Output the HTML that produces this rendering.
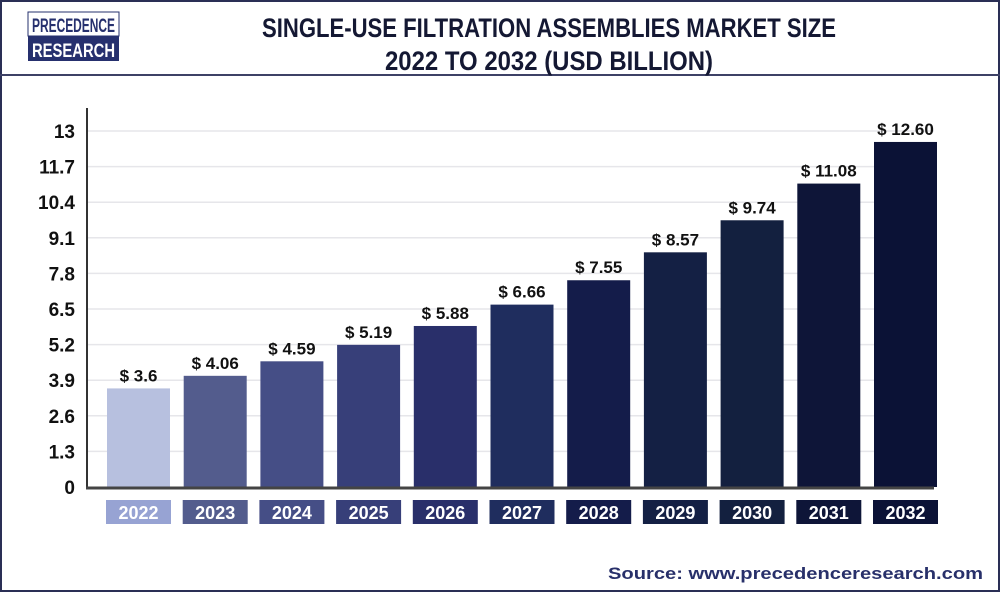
<!DOCTYPE html>
<html><head><meta charset="utf-8"><style>
html,body{margin:0;padding:0;background:#fff}
svg{display:block}
text{font-family:"Liberation Sans Narrow","Liberation Sans",sans-serif;font-weight:bold}
</style></head><body>
<svg id="chart" width="1000" height="592" viewBox="0 0 1000 592" xmlns="http://www.w3.org/2000/svg">
<rect x="1" y="1" width="998" height="590" fill="#fff" stroke="#2a2f55" stroke-width="2"/>
<line x1="0" y1="75" x2="1000" y2="75" stroke="#3d4166" stroke-width="2"/>
<g>
<rect x="28" y="12" width="91" height="24" fill="#fff" stroke="#26306e" stroke-width="1"/>
<rect x="28" y="36" width="91" height="25" fill="#26306e"/>
<text x="73.5" y="32" text-anchor="middle" font-size="19" fill="#26306e" textLength="83" lengthAdjust="spacingAndGlyphs">PRECEDENCE</text>
<text x="73.5" y="57" text-anchor="middle" font-size="19" fill="#fff" textLength="83" lengthAdjust="spacingAndGlyphs">RESEARCH</text>
</g>
<text x="549" y="37" text-anchor="middle" font-size="27" fill="#141833" textLength="574" lengthAdjust="spacingAndGlyphs">SINGLE-USE FILTRATION ASSEMBLIES MARKET SIZE</text>
<text x="549" y="70" text-anchor="middle" font-size="27" fill="#141833" textLength="328" lengthAdjust="spacingAndGlyphs">2022 TO 2032 (USD BILLION)</text>
<g id="grid"></g><g id="bars"></g><g id="yticks"></g>
<line x1="87" y1="108" x2="87" y2="489" stroke="#333" stroke-width="2"/>
<line x1="86" y1="488" x2="934" y2="488" stroke="#444" stroke-width="3"/>
<text x="983" y="579" text-anchor="end" font-size="17" fill="#28306a" style="font-family:'Liberation Sans',sans-serif" textLength="375" lengthAdjust="spacingAndGlyphs">Source: www.precedenceresearch.com</text>
</svg>
<script>
const categories=["2022","2023","2024","2025","2026","2027","2028","2029","2030","2031","2032"];
const values=[3.6,4.06,4.59,5.19,5.88,6.66,7.55,8.57,9.74,11.08,12.60];
const valueLabels=["$ 3.6","$ 4.06","$ 4.59","$ 5.19","$ 5.88","$ 6.66","$ 7.55","$ 8.57","$ 9.74","$ 11.08","$ 12.60"];
const yTicks=[0,1.3,2.6,3.9,5.2,6.5,7.8,9.1,10.4,11.7,13];
const yTickLabels=["0","1.3","2.6","3.9","5.2","6.5","7.8","9.1","10.4","11.7","13"];
const barColors=["#b7c0df","#535c8d","#454e86","#373f79","#292f6a","#1f2d5e","#141c4a","#142044","#13203f","#0e1538","#0b1236"];
const boxColors=["#97a3d3","#535c8d","#454e86","#373f79","#292f6a","#1f2d5e","#141c4a","#142044","#13203f","#0e1538","#0b1236"];
const NS="http://www.w3.org/2000/svg";
const y=v=>487-v*(356/13);
const x=i=>107+i*76.7;
const bw=63;
function mk(tag,attrs,parent,txt){const e=document.createElementNS(NS,tag);for(const k in attrs)e.setAttribute(k,attrs[k]);if(txt!==undefined)e.textContent=txt;parent.appendChild(e);return e;}
const grid=document.getElementById('grid'),bars=document.getElementById('bars'),yt=document.getElementById('yticks');
yTicks.forEach((t,i)=>{
  if(t>0){const g=mk('line',{x1:88,x2:934,y1:y(t),y2:y(t),stroke:'#e6e6ea','stroke-width':1.5},grid);
  
  }
  const l=mk('text',{x:75,y:y(t)+7,'text-anchor':'end','font-size':19,fill:'#111'},yt,yTickLabels[i]);
  
  
});
categories.forEach((c,i)=>{
  const b=mk('rect',{x:x(i),y:y(values[i]),width:bw,height:487-y(values[i]),fill:barColors[i]},bars);
  
  
  const v=mk('text',{x:x(i)+bw/2,y:y(values[i])-7,'text-anchor':'middle','font-size':17,fill:'#111'},bars,valueLabels[i]);
  
  
  const bx=mk('rect',{x:x(i)-1,y:500,width:bw+2,height:24,fill:boxColors[i]},bars);
  
  
  const t=mk('text',{x:x(i)+bw/2,y:519,'text-anchor':'middle','font-size':18,fill:'#fff'},bars,c);
  
  
});
</script>
</body></html>
